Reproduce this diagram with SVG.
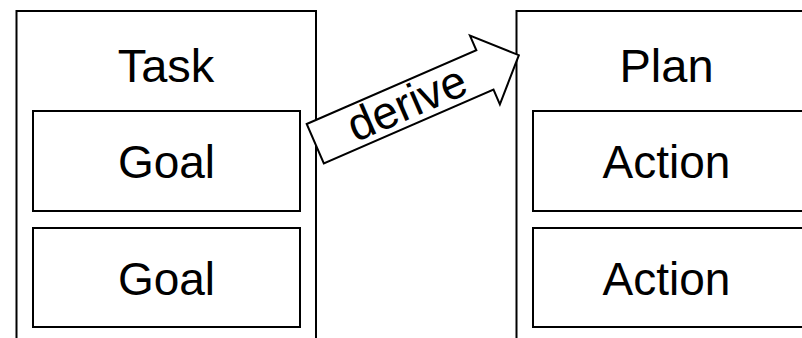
<svg xmlns="http://www.w3.org/2000/svg" width="802" height="338" viewBox="0 0 802 338">
<style>
.box{fill:#fff;stroke:#000;stroke-width:2}
.lbl{font-family:"Liberation Sans",Arial,sans-serif;font-size:46px;fill:#000;text-anchor:middle}
.title{font-size:47px}
</style>
<rect width="802" height="338" fill="#fff"/>
<g id="task">
<path class="box" d="M16.5,340 V11 H316 V340"/>
<text class="lbl title" x="166" y="82">Task</text>
</g>
<g id="goal1">
<rect class="box" x="33" y="111" width="267" height="100"/>
<text class="lbl" x="166.5" y="178">Goal</text>
</g>
<g id="goal2">
<rect class="box" x="33" y="228" width="267" height="99"/>
<text class="lbl" x="166.5" y="295">Goal</text>
</g>
<g id="plan">
<path class="box" d="M516.5,340 V11 H820 V340"/>
<text class="lbl title" x="666.5" y="82">Plan</text>
</g>
<g id="action1">
<rect class="box" x="533" y="111" width="270" height="100"/>
<text class="lbl" x="666.5" y="178">Action</text>
</g>
<g id="action2">
<rect class="box" x="533" y="228" width="270" height="99"/>
<text class="lbl" x="666.5" y="295">Action</text>
</g>
<g id="connectors">
<g transform="translate(306.7,124) rotate(-23.5)">
<polygon class="box" points="0,0 185,0 185,-16 222,21.5 185,59 185,43 0,43"/>
<text class="lbl" x="100" y="36.5">derive</text>
</g>
</g>
</svg>
